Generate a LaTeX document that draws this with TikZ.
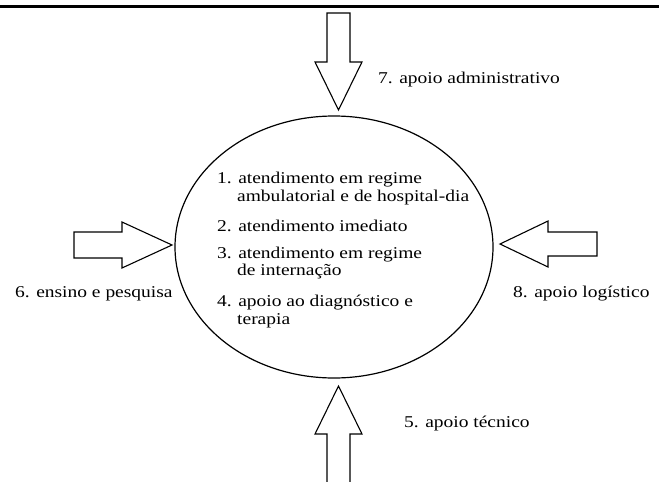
\documentclass[tikz,border=0pt]{standalone}
\usepackage{fontspec}
\setmainfont{Liberation Serif}[FakeStretch=1.18]
\usetikzlibrary{shapes.geometric}
\begin{document}
\begin{tikzpicture}[x=1pt,y=-1pt,
  txt/.style={anchor=base west, inner sep=0pt, font=\fontsize{16.5pt}{18pt}\selectfont},
  blockarrow/.style={draw, line width=1.1pt, fill=white, line join=miter},
  rulebar/.style={line width=3pt}]
\useasboundingbox (0,0) rectangle (659,482);
% top rule
\coordinate (rl) at (0,6);
\coordinate (rr) at (659,6);
\draw[rulebar] (rl) -- (rr);
% central ellipse
\node[draw, ellipse, line width=1.2pt, minimum width=318pt, minimum height=262pt, inner sep=0pt] (core) at (334,247) {};
% block arrows
\draw[blockarrow] (327,13) -- (350,13) -- (350,62) -- (362,62) -- (338.5,110) -- (315,62) -- (327,62) -- cycle;
\draw[blockarrow] (327,484) -- (327,434) -- (315,434) -- (338.5,386) -- (362,434) -- (350,434) -- (350,484);
\draw[blockarrow] (74,232) -- (122,232) -- (122,222) -- (172,245) -- (122,268) -- (122,258) -- (74,258) -- cycle;
\draw[blockarrow] (597,232) -- (548,232) -- (548,221) -- (500,244) -- (548,267) -- (548,256) -- (597,256) -- cycle;
% labels
\node[txt] (l7) at (378,83) {7. apoio administrativo};
\node[txt] (l6) at (15,297) {6. ensino e pesquisa};
\node[txt] (l8) at (513,297) {8. apoio logístico};
\node[txt] (l5) at (404,427) {5. apoio técnico};
% items in ellipse
\node[txt] (i1a) at (217,183.3) {1. atendimento em regime};
\node[txt] (i1b) at (237,201) {ambulatorial e de hospital-dia};
\node[txt] (i2) at (217,231) {2. atendimento imediato};
\node[txt] (i3a) at (217,258.3) {3. atendimento em regime};
\node[txt] (i3b) at (237,275.7) {de internação};
\node[txt] (i4a) at (217,306.7) {4. apoio ao diagnóstico e};
\node[txt] (i4b) at (237,324) {terapia};
\end{tikzpicture}
\end{document}
